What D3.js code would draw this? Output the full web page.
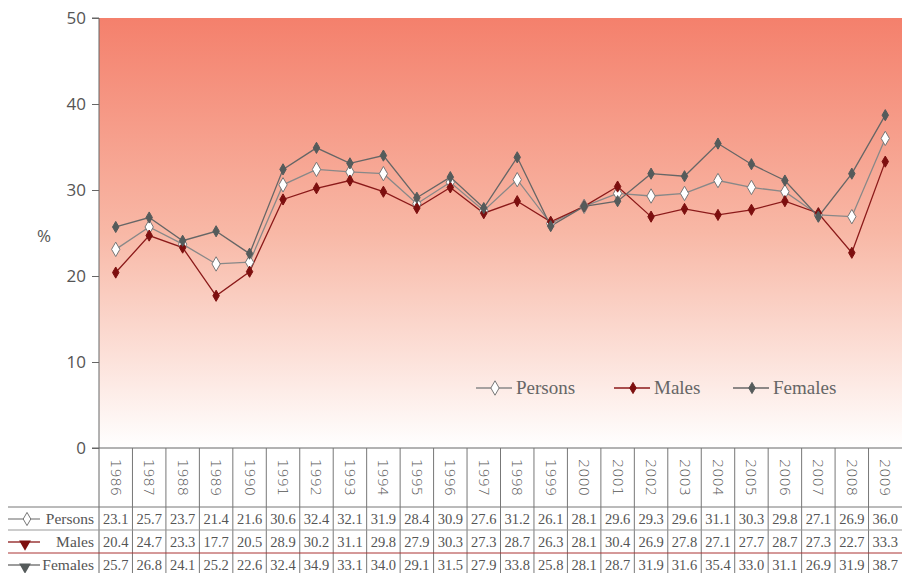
<!DOCTYPE html>
<html><head><meta charset="utf-8">
<script src="https://cdn.jsdelivr.net/npm/d3@7"></script>
<style>body{margin:0;background:#fff;}svg{display:block;}</style>
</head><body>
<svg id="c" width="902" height="573"></svg>
<script>
const years = ["1986","1987","1988","1989","1990","1991","1992","1993","1994","1995","1996","1997","1998","1999","2000","2001","2002","2003","2004","2005","2006","2007","2008","2009"];
const persons = [23.1,25.7,23.7,21.4,21.6,30.6,32.4,32.1,31.9,28.4,30.9,27.6,31.2,26.1,28.1,29.6,29.3,29.6,31.1,30.3,29.8,27.1,26.9,36.0];
const males   = [20.4,24.7,23.3,17.7,20.5,28.9,30.2,31.1,29.8,27.9,30.3,27.3,28.7,26.3,28.1,30.4,26.9,27.8,27.1,27.7,28.7,27.3,22.7,33.3];
const females = [25.7,26.8,24.1,25.2,22.6,32.4,34.9,33.1,34.0,29.1,31.5,27.9,33.8,25.8,28.1,28.7,31.9,31.6,35.4,33.0,31.1,26.9,31.9,38.7];
const yTicks = [0,10,20,30,40,50];
const seriesNames = ["Persons","Males","Females"];

const series = [
  {name:seriesNames[0], values:persons, line:"#888", fill:"#fff", stroke:"#777", size:60},
  {name:seriesNames[1], values:males, line:"#8b1a1a", fill:"#7d0f0f", stroke:"#7d0f0f", size:36},
  {name:seriesNames[2], values:females, line:"#666", fill:"#555b5b", stroke:"#555b5b", size:36}
];

const svg = d3.select("#c");
const L = 99, R = 902, T = 18, B = 448;
const x = d3.scaleBand().domain(years).range([L, R]);
const y = d3.scaleLinear().domain([0,50]).range([B, T]);

const defs = svg.append("defs");
const g = defs.append("linearGradient").attr("id","bg").attr("x1",0).attr("y1",0).attr("x2",0).attr("y2",1);
g.append("stop").attr("offset","0%").attr("stop-color","#f4806c");
g.append("stop").attr("offset","50%").attr("stop-color","#f8b8a6");
g.append("stop").attr("offset","100%").attr("stop-color","#ffffff");

svg.append("rect").attr("x",L).attr("y",T).attr("width",R-L).attr("height",B-T).attr("fill","url(#bg)");

// Y axis
const yAxis = svg.append("g").attr("transform",`translate(${L},0)`)
  .call(d3.axisLeft(y).tickValues(yTicks).tickSize(7).tickPadding(6));
yAxis.select(".domain").attr("stroke","#666");
yAxis.selectAll(".tick line").attr("stroke","#666");
yAxis.selectAll("text").attr("fill","#555").style("font-family","'Open Sans', sans-serif").style("font-size","17px");
yAxis.select(".domain").attr("d",`M-7,${T}H0V573`);

svg.append("text").attr("x",44).attr("y",242).attr("text-anchor","middle")
  .attr("fill","#555").style("font-family","'Open Sans', sans-serif").style("font-size","17px").text("%");

// x baseline
svg.append("line").attr("x1",L-7).attr("x2",R).attr("y1",B).attr("y2",B).attr("stroke","#666");

// Lines & markers
const diamond = d3.symbol().type(d3.symbolDiamond);
series.forEach(s=>{
  const line = d3.line().x((d,i)=>x(years[i])+x.bandwidth()/2).y(d=>y(d));
  svg.append("path").datum(s.values).attr("d",line).attr("fill","none").attr("stroke",s.line).attr("stroke-width",1.3);
});
series.forEach(s=>{
  svg.append("g").selectAll("path").data(s.values).join("path")
    .attr("d",diamond.size(s.size))
    .attr("transform",(d,i)=>`translate(${x(years[i])+x.bandwidth()/2},${y(d)})`)
    .attr("fill",s.fill).attr("stroke",s.stroke).attr("stroke-width",1);
});

// Legend
const legX = [476, 614, 733];
series.forEach((s,i)=>{
  const lg = svg.append("g").attr("transform",`translate(${legX[i]},388)`);
  lg.append("line").attr("x1",0).attr("x2",36).attr("stroke",s.line).attr("stroke-width",1.3);
  lg.append("path").attr("d",diamond.size(s.size)).attr("transform","translate(19,0)").attr("fill",s.fill).attr("stroke",s.stroke);
  lg.append("text").attr("x",40).attr("y",6).attr("fill","#666")
    .style("font-family","'Liberation Serif', serif").style("font-size","19px").text(s.name);
});

// Table
const tableFont = "'Liberation Serif', serif";
years.forEach((yr,i)=>{
  if(i>0) svg.append("line").attr("x1",x(yr)).attr("x2",x(yr)).attr("y1",B).attr("y2",573).attr("stroke","#777").attr("stroke-width",1);
  svg.append("text").attr("transform",`translate(${x(yr)+x.bandwidth()/2},${B+11}) rotate(90)`)
    .attr("dominant-baseline","central")
    .attr("fill","#555").style("font-family","'DejaVu Sans', sans-serif").style("font-size","14.5px").style("font-weight","300").text(yr);
});
const rowLines = [{y:507,c:"#777"},{y:530,c:"#999"},{y:553,c:"#a33"}];
rowLines.forEach(r=>svg.append("line").attr("x1",8).attr("x2",R).attr("y1",r.y).attr("y2",r.y).attr("stroke",r.c).attr("stroke-width",1));

const rowY = [519,542,565];
const triDown = d3.symbol().type(d3.symbolTriangle);
series.forEach((s,k)=>{
  const ry = rowY[k];
  svg.append("line").attr("x1",8).attr("x2",40).attr("y1",ry).attr("y2",ry).attr("stroke",s.line).attr("stroke-width",1.3);
  if(k===0){
    svg.append("path").attr("d",diamond.size(50)).attr("transform",`translate(27,${ry})`).attr("fill","#fff").attr("stroke","#777");
  } else {
    svg.append("path").attr("d",triDown.size(60)).attr("transform",`translate(25,${ry+2}) rotate(180)`).attr("fill",s.fill);
  }
  svg.append("text").attr("x",94).attr("y",ry+5).attr("text-anchor","end").attr("fill","#555")
    .style("font-family",tableFont).style("font-size","15.5px").text(s.name);
  s.values.forEach((v,i)=>{
    svg.append("text").attr("x",x(years[i])+x.bandwidth()/2).attr("y",ry+5).attr("text-anchor","middle")
      .attr("fill","#555").style("font-family",tableFont).style("font-size","14.5px").text(v.toFixed(1));
  });
});
</script>
</body></html>
